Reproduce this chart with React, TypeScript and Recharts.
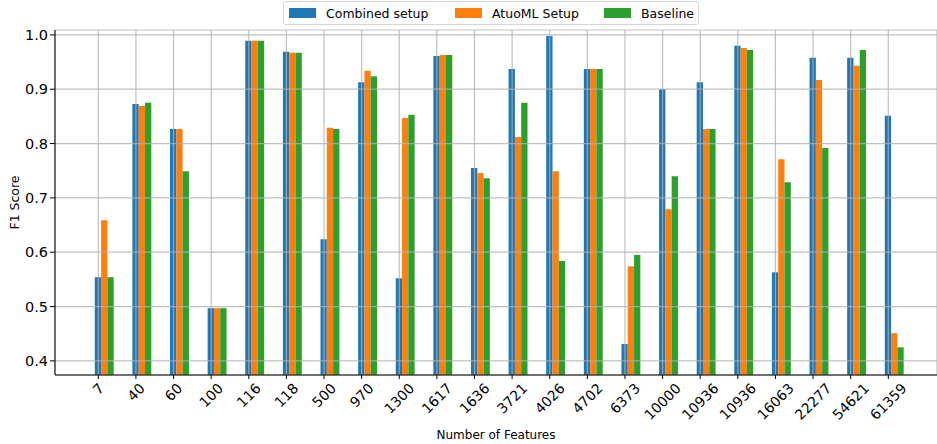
import { Bar, BarChart, CartesianGrid, Label, XAxis, YAxis } from "recharts";

const features = ["7", "40", "60", "100", "116", "118", "500", "970", "1300", "1617", "1636", "3721", "4026", "4702", "6373", "10000", "10936", "10936", "16063", "22277", "54621", "61359"];
const combined = [0.554, 0.873, 0.827, 0.497, 0.989, 0.969, 0.624, 0.913, 0.552, 0.961, 0.755, 0.937, 0.998, 0.937, 0.431, 0.9, 0.913, 0.98, 0.563, 0.958, 0.958, 0.851];
const automl = [0.659, 0.869, 0.827, 0.497, 0.989, 0.967, 0.829, 0.934, 0.847, 0.963, 0.746, 0.812, 0.749, 0.937, 0.574, 0.679, 0.827, 0.976, 0.771, 0.917, 0.943, 0.451];
const baseline = [0.554, 0.875, 0.749, 0.497, 0.989, 0.967, 0.827, 0.924, 0.853, 0.963, 0.736, 0.875, 0.584, 0.937, 0.595, 0.74, 0.827, 0.972, 0.729, 0.792, 0.972, 0.425];
const yTicks = [0.4, 0.5, 0.6, 0.7, 0.8, 0.9, 1.0];

const data = features.map((f, i) => ({ idx: i, label: f, combined: combined[i], automl: automl[i], baseline: baseline[i] }));

const FONT = "DejaVu Sans";
const legendItems = [
  { name: "Combined setup", color: "#1f77b4", left: 5 },
  { name: "AtuoML Setup", color: "#ff7f0e", left: 171 },
  { name: "Baseline", color: "#2ca02c", left: 320 },
];

function RotTick(props: any) {
  const { x, y, payload } = props;
  const s = features[payload.value];
  const fs = 14;
  const w = s.length * 0.636 * fs;
  const h = fs * 1.17;
  const d = (w + h) / (2 * Math.SQRT2);
  return (
    <text x={0} y={0} transform={`translate(${x},${y + d - 1}) rotate(-45)`} textAnchor="middle" dominantBaseline="central" fontSize={fs} fill="#000" fontFamily={FONT}>
      {s}
    </text>
  );
}

export default function App() {
  return (
    <div style={{ position: "absolute", left: 0, top: 0, width: 937, height: 444, background: "#fff", fontFamily: FONT }}>
      <BarChart width={937} height={444} data={data} margin={{ top: 30, right: 0, left: 0, bottom: 0 }} barGap={0} barSize={6.3}>
        {/* top spine; also the band axis the bars sit on */}
        <XAxis
          xAxisId="top"
          dataKey="idx"
          orientation="top"
          height={0}
          padding={{ left: 30.8, right: 23.6 }}
          tick={false}
          tickLine={false}
          axisLine={{ stroke: "#555", strokeWidth: 1.2 }}
        />
        <XAxis
          xAxisId="ticks"
          dataKey="idx"
          interval={0}
          height={69}
          padding={{ left: 24.5, right: 29.9 }}
          tick={<RotTick />}
          tickSize={4}
          tickLine={{ stroke: "#000" }}
          axisLine={{ stroke: "#000" }}
        >
          <Label
            content={(p: any) => (
              <text x={p.viewBox.x + p.viewBox.width / 2} y={p.viewBox.y + 64} textAnchor="middle" fontSize={12} fill="#000" fontFamily={FONT}>
                Number of Features
              </text>
            )}
          />
        </XAxis>
        <YAxis
          domain={[0.374, 1.009]}
          ticks={yTicks}
          allowDataOverflow
          width={55}
          tickFormatter={(v: number) => v.toFixed(1)}
          tick={{ fontSize: 14.5, fill: "#000", fontFamily: FONT }}
          tickSize={5}
          tickLine={{ stroke: "#000" }}
          axisLine={{ stroke: "#000" }}
        >
          <Label
            content={(p: any) => (
              <text
                x={0}
                y={0}
                transform={`translate(${p.viewBox.x + 19},${p.viewBox.y + p.viewBox.height / 2}) rotate(-90)`}
                textAnchor="middle"
                fontSize={12.5}
                fill="#000"
                fontFamily={FONT}
              >
                F1 Score
              </text>
            )}
          />
        </YAxis>
        <Bar xAxisId="top" dataKey="combined" fill="#1f77b4" isAnimationActive={false} />
        <Bar xAxisId="top" dataKey="automl" fill="#ff7f0e" isAnimationActive={false} />
        <Bar xAxisId="top" dataKey="baseline" fill="#2ca02c" isAnimationActive={false} />
        <CartesianGrid xAxisId="ticks" stroke="#b0b0b0" strokeOpacity={0.8} strokeWidth={1.2} zIndex={350} />
      </BarChart>
      <div
        style={{
          position: "absolute",
          left: 283,
          top: 1,
          width: 416,
          height: 24,
          boxSizing: "border-box",
          border: "1px solid #d6d6d6",
          borderRadius: 3,
          background: "#fff",
          fontSize: 12.5,
          whiteSpace: "nowrap",
        }}
      >
        {legendItems.map((it) => (
          <div key={it.name} style={{ position: "absolute", left: it.left, top: 0, height: 22, display: "flex", alignItems: "center" }}>
            <span style={{ display: "inline-block", width: 27, height: 10, background: it.color, marginRight: 10 }} />
            <span>{it.name}</span>
          </div>
        ))}
      </div>
    </div>
  );
}
